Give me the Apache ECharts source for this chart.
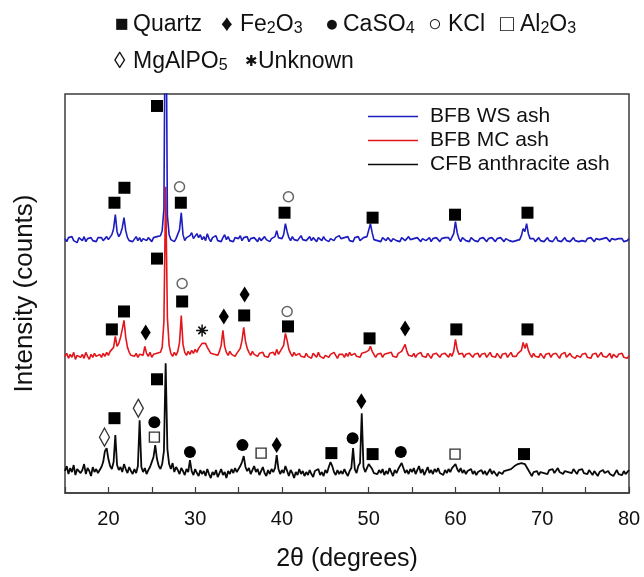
<!DOCTYPE html>
<html>
<head>
<meta charset="utf-8">
<script src="https://cdn.jsdelivr.net/npm/echarts@6/dist/echarts.min.js"></script>
<style>
  html, body { margin: 0; padding: 0; background: #fff; }
  #chart { width: 644px; height: 577px; }
</style>
</head>
<body>
<div id="chart"></div>
<script>
// Diffraction scans, sampled every 0.2° from 15° to 80° 2θ (stacked offsets included)
const thetaStart = 15;
const thetaStep = 0.2;

const wsAsh = [
  255,252,256,254,257,253,255,251,256,254,253,257,252,255,254,256,253,255,252,256, // 15.0-18.8
  254,256,253,255,257,254,256,259,265,279,262,257,260,266,276,263,256,253,255,252, // 19.0-22.8
  254,257,253,256,252,255,257,253,256,254,252,256,254,257,255,258,263,285,560,278, // 23.0-26.8
  259,254,256,252,255,253,264,281,259,253,256,254,258,261,255,257,260,256,259,254, // 27.0-30.8
  257,253,260,255,252,256,254,258,253,255,252,256,259,254,257,253,255,252,256,254, // 31.0-34.8
  255,258,253,256,254,257,252,255,253,256,254,252,256,253,255,257,254,256,252,255, // 35.0-38.8
  254,257,263,256,258,255,259,270,262,256,253,257,254,256,253,255,258,254,256,253, // 39.0-42.8
  255,257,253,256,254,252,256,255,253,257,254,256,252,255,257,253,256,254,258,255, // 43.0-46.8
  253,256,254,257,253,255,252,256,254,257,253,255,256,254,257,259,270,261,254,256, // 47.0-50.8
  253,255,252,256,254,253,256,254,252,255,257,253,255,252,256,254,253,255,257,254, // 51.0-54.8
  252,255,253,256,254,252,255,257,253,254,256,252,255,253,256,254,252,255,253,256, // 55.0-58.8
  254,256,253,255,260,272,261,255,252,256,254,253,255,252,256,254,253,255,252,255, // 59.0-62.8
  253,256,254,252,255,253,256,254,252,255,253,256,254,252,255,257,253,255,252,254, // 63.0-66.8
  253,255,254,258,265,262,270,260,255,253,255,252,254,256,253,255,252,254,256,253, // 67.0-70.8
  255,252,254,257,253,255,252,254,256,253,255,252,254,256,253,255,252,254,253,255, // 71.0-74.8
  252,255,253,256,254,252,255,253,254,252,255,253,256,254,252,255,253,254,252,255, // 75.0-78.8
  253,255,252,254,253,255                                                          // 79.0-80.0
];

const mcAsh = [
  137,140,135,139,136,141,134,138,140,136,139,135,141,137,134,139,136,140,137,135,
  139,136,140,137,141,138,142,140,146,157,147,150,156,164,173,156,146,141,138,140,
  137,140,136,139,141,138,147,140,137,141,136,139,137,140,138,141,146,172,307,176,
  148,140,137,141,138,142,151,178,149,141,138,142,139,143,140,144,141,145,147,150,
  152,150,146,143,140,142,139,141,138,142,148,163,147,141,138,142,139,141,137,140,
  142,145,153,166,152,145,141,138,142,139,141,137,140,138,141,137,139,136,140,138,
  141,138,144,139,142,140,148,160,153,144,140,137,141,138,136,140,137,139,136,140,
  137,139,135,140,138,136,141,137,139,135,138,140,136,139,137,141,138,135,139,137,
  139,136,140,137,141,138,136,140,137,139,136,140,138,141,139,143,147,142,139,136,
  139,137,140,136,139,137,140,138,141,137,139,136,140,138,142,144,149,142,138,140,
  137,140,136,139,138,141,137,139,136,140,138,135,139,137,140,138,136,139,137,140,
  138,136,140,137,142,154,144,139,137,140,136,139,137,140,138,136,139,137,140,136,
  139,137,140,136,138,141,137,139,136,140,138,135,139,137,140,136,138,141,137,139,
  137,140,138,143,151,145,150,143,139,136,140,137,139,136,140,138,135,139,137,140,
  136,139,137,140,138,135,139,137,141,136,138,140,137,139,135,138,140,136,139,137,
  140,136,138,135,139,137,140,136,138,141,137,139,136,138,140,135,139,137,136,139,
  137,140,136,138,135,138
];

const cfbAsh = [
  22,27,19,25,21,28,18,24,26,20,23,29,19,25,22,17,26,21,24,20,
  23,26,31,42,45,34,27,24,31,58,28,23,26,21,29,24,20,26,22,19,
  24,20,27,73,26,21,25,19,23,26,28,36,48,34,27,24,29,42,130,44,
  29,24,30,21,26,23,19,25,22,18,24,21,33,22,18,24,20,17,23,19,
  22,17,24,19,15,21,18,23,16,20,24,18,21,15,22,19,24,20,25,21,
  23,27,31,37,26,22,25,19,23,27,21,24,18,22,26,20,17,23,19,24,
  21,25,38,24,19,23,20,27,22,17,23,20,15,21,18,24,19,22,17,21,
  18,23,19,16,22,20,24,18,21,17,23,20,26,31,27,21,18,23,19,22,
  19,24,20,17,22,25,45,24,20,27,30,80,26,21,25,29,31,24,20,22,
  19,23,20,24,18,22,19,25,21,17,23,20,24,22,30,25,20,23,19,24,
  21,25,19,23,27,20,24,18,22,26,20,23,19,24,21,25,20,22,18,23,
  20,24,21,25,23,29,24,21,25,20,23,19,22,20,24,19,22,18,21,20,
  23,19,22,18,21,24,19,22,20,17,21,23,19,22,20,23,21,24,26,27,
  27,29,27,30,28,29,26,24,20,17,21,19,22,18,21,23,20,22,19,23,
  21,24,20,22,25,21,23,19,22,24,21,23,20,24,22,19,23,21,24,20,
  22,19,23,21,18,22,20,17,21,19,23,20,18,22,19,21,17,20,23,19,
  21,18,22,19,20,23
];

// Phase identification marks: [2θ, height on the stacked scale]
const quartzMarks = [
  [25.6, 388], [20.7, 291], [21.85, 306], [28.35, 291], [40.3, 281], [50.45, 276], [59.95, 279], [68.3, 281],
  [25.6, 235], [20.4, 164], [21.8, 182], [28.5, 192], [35.65, 178], [40.7, 167], [50.1, 155], [60.1, 164], [68.3, 164],
  [25.6, 114], [20.7, 75], [45.7, 40], [50.45, 39], [67.9, 39]
];
const hematiteMarks = [[24.3, 161], [33.3, 177], [35.7, 199], [54.2, 165], [39.4, 48], [49.15, 92]];
const anhydriteMarks = [[25.3, 71], [29.4, 41], [35.45, 48], [48.15, 55], [53.7, 41]];
const sylviteMarks = [[28.2, 307], [40.75, 297], [28.5, 210], [40.6, 182]];
const aluminaMarks = [[25.3, 56], [37.6, 40], [59.95, 39]];
const mgAlPhosphateMarks = [[19.55, 56], [23.45, 85]];
const unknownMarks = [[30.8, 163]];

const seriesNames = ['BFB WS ash', 'BFB MC ash', 'CFB anthracite ash'];
const xTicks = [20, 30, 40, 50, 60, 70, 80];

const FONT = '"Liberation Sans", Arial, Helvetica, sans-serif';
const ASTERISK = 'path://M-1,-8L1,-8L1,8L-1,8Z M-8,-1L8,-1L8,1L-8,1Z M-5.73,-4.17L-4.17,-5.73L5.73,4.17L4.17,5.73Z M-4.17,5.73L-5.73,4.17L4.17,-5.73L5.73,-4.17Z';

function toPairs(vals) {
  return vals.map((v, i) => [+(thetaStart + i * thetaStep).toFixed(1), v]);
}

function lineSeries(name, vals, color, width) {
  return {
    name: name, type: 'line', data: toPairs(vals),
    symbol: 'none', showSymbol: false, clip: true,
    lineStyle: { color: color, width: width }, itemStyle: { color: color },
    animation: false
  };
}

function markSeries(name, data, symbol, size, fill, stroke, strokeWidth) {
  return {
    name: name, type: 'scatter', data: data, symbol: symbol, symbolSize: size,
    itemStyle: { color: fill, borderColor: stroke || fill, borderWidth: strokeWidth || 0, opacity: 1 },
    z: 5, silent: true, animation: false
  };
}

// Phase key across the top
const subText = { fontSize: 16, fontFamily: FONT, fill: '#111', verticalAlign: 'bottom', lineHeight: 23 };
const mainText = { fontSize: 23, fontFamily: FONT, fill: '#111', verticalAlign: 'bottom', lineHeight: 23 };
function keyText(x, y, text, size) {
  return {
    type: 'text', x: x, y: y, silent: true,
    style: {
      text: text, fontSize: size || 23, fontFamily: FONT, fill: '#111',
      align: 'left', verticalAlign: 'middle',
      rich: { n: mainText, s: subText }
    }
  };
}
const phaseKey = [
  keyText(115, 25, '■'), keyText(133, 25, '{n|Quartz}'),
  keyText(221, 25, '♦'), keyText(240, 25, '{n|Fe}{s|2}{n|O}{s|3}'),
  keyText(325, 25, '●'), keyText(343, 25, '{n|CaSO}{s|4}'),
  keyText(428, 25, '○'), keyText(448, 25, '{n|KCl}'),
  keyText(500, 25, '□'), keyText(520, 25, '{n|Al}{s|2}{n|O}{s|3}'),
  keyText(114, 62, '◊'), keyText(133, 62, '{n|MgAlPO}{s|5}'),
  keyText(245, 62, '✱', 15), keyText(258, 62, '{n|Unknown}')
];

const chart = echarts.init(document.getElementById('chart'), null, { renderer: 'canvas' });
chart.setOption({
  backgroundColor: '#fff',
  animation: false,
  textStyle: { fontFamily: FONT },
  grid: { left: 65, right: 15, top: 94, height: 400, show: true, borderColor: '#3c3c3c', borderWidth: 1.5, backgroundColor: 'transparent' },
  legend: {
    data: seriesNames, orient: 'vertical', left: 368, top: 106, padding: 0,
    icon: 'rect', itemWidth: 50, itemHeight: 1.6, itemGap: 3,
    textStyle: { fontSize: 21, lineHeight: 21, color: '#111', fontFamily: FONT, padding: [0, 0, 0, 7] }
  },
  xAxis: {
    type: 'value', min: 15, max: 80, interval: 5,
    axisLine: { show: true, lineStyle: { color: '#3c3c3c', width: 1.5 } },
    axisTick: { show: true, inside: true, length: 6, lineStyle: { color: '#3c3c3c', width: 1.2 } },
    axisLabel: {
      fontSize: 20, color: '#111', margin: 16, fontFamily: FONT,
      formatter: v => (xTicks.indexOf(v) >= 0 ? String(v) : '')
    },
    splitLine: { show: false },
    name: '2θ (degrees)', nameLocation: 'middle', nameGap: 54,
    nameTextStyle: { fontSize: 25, color: '#111', fontFamily: FONT }
  },
  yAxis: {
    type: 'value', min: 0, max: 400,
    axisLine: { show: false }, axisTick: { show: false }, axisLabel: { show: false },
    splitLine: { show: false },
    name: 'Intensity (counts)', nameLocation: 'middle', nameGap: 27,
    nameTextStyle: { fontSize: 26, color: '#111', fontFamily: FONT }
  },
  graphic: phaseKey,
  series: [
    lineSeries('CFB anthracite ash', cfbAsh, '#0a0a0a', 1.8),
    lineSeries('BFB MC ash', mcAsh, '#e3161b', 1.6),
    lineSeries('BFB WS ash', wsAsh, '#1c1cc0', 1.6),
    markSeries('Quartz', quartzMarks, 'rect', 12, '#000'),
    markSeries('Fe2O3', hematiteMarks, 'diamond', [10, 16], '#000'),
    markSeries('CaSO4', anhydriteMarks, 'circle', 12, '#000'),
    markSeries('KCl', sylviteMarks, 'circle', 10, '#fff', '#666', 1.5),
    markSeries('Al2O3', aluminaMarks, 'rect', 10, '#fff', '#333', 1.4),
    markSeries('MgAlPO5', mgAlPhosphateMarks, 'diamond', [10, 18], '#fff', '#333', 1.4),
    markSeries('Unknown', unknownMarks, ASTERISK, 12, '#111')
  ]
});
</script>
</body>
</html>
